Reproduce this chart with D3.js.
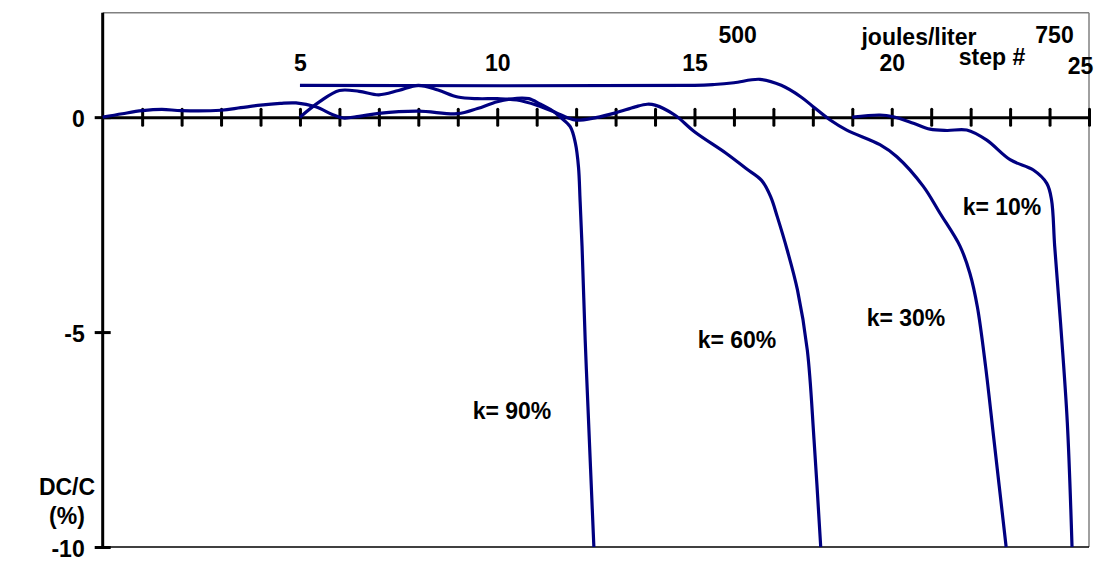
<!DOCTYPE html>
<html>
<head>
<meta charset="utf-8">
<script src="https://cdn.jsdelivr.net/npm/d3@7"></script>
<style>
  html, body { margin: 0; padding: 0; background: #fff; }
  svg { display: block; font-family: 'Liberation Sans', Arial, sans-serif; font-weight: bold; }
  .lbl { font-size: 23px; fill: #000; }
</style>
</head>
<body>
<div id="chart"></div>
<script>
// step # on the bottom axis, DC/C (%) on the left
const stepTicks = d3.range(1, 26)
const stepLabels = [5, 10, 15, 20, 25]
const jouleLabels = [500, 750]
const yTicks = [0, -5, -10]

// k = 90%
const k90Step = [0, 0.5, 1, 1.5, 2, 3, 3.5, 4, 4.5, 4.9, 5.4, 5.85, 6.1, 6.5, 7, 8, 9, 9.5, 10, 10.5, 10.8, 11.1, 11.4, 11.6, 11.85, 11.98, 12.06, 12.1, 12.15, 12.23, 12.3, 12.45]
const k90Dc = [0, 0.08, 0.15, 0.18, 0.15, 0.16, 0.22, 0.28, 0.32, 0.33, 0.24, 0.05, -0.02, 0.02, 0.09, 0.14, 0.08, 0.2, 0.36, 0.44, 0.43, 0.3, 0.15, 0.0, -0.22, -0.6, -1.16, -1.93, -3.0, -5.19, -6.74, -10]

// k = 60%
const k60Step = [5, 5.5, 6, 6.5, 7, 7.5, 8, 8.5, 9, 9.5, 10, 10.5, 11, 11.5, 11.8, 12, 12.5, 13, 13.5, 13.8, 14, 14.5, 15, 15.8, 16.3, 16.7, 16.93, 17.1, 17.35, 17.61, 17.86, 18.03, 18.2]
const k60Dc = [0, 0.36, 0.62, 0.6, 0.52, 0.62, 0.74, 0.63, 0.47, 0.43, 0.43, 0.4, 0.28, 0.1, -0.02, -0.07, -0.01, 0.1, 0.24, 0.3, 0.28, 0.05, -0.34, -0.84, -1.19, -1.47, -1.85, -2.32, -3.09, -4.02, -5.42, -7.5, -10]

// k = 30%
const k30Step = [5, 15, 15.5, 16, 16.66, 17.2, 17.7, 18.0, 18.43, 18.86, 19.7, 20.13, 20.8, 21.22, 21.73, 21.98, 22.17, 22.38, 22.59, 22.9]
const k30Dc = [0.74, 0.74, 0.76, 0.8, 0.88, 0.74, 0.47, 0.25, -0.06, -0.3, -0.64, -0.92, -1.61, -2.23, -3.0, -3.63, -4.41, -5.81, -7.5, -10]

// k = 10%
const k10Step = [19, 19.7, 20.04, 20.55, 20.97, 21.4, 21.9, 22.4, 23.0, 23.59, 23.93, 24.05, 24.13, 24.28, 24.45, 24.57]
const k10Dc = [0, 0.05, 0.01, -0.14, -0.28, -0.31, -0.3, -0.53, -0.99, -1.23, -1.54, -1.92, -3.0, -4.8, -7.1, -10]

const seriesNames = ['k= 90%', 'k= 60%', 'k= 30%', 'k= 10%']

const WIDTH = 1098
const HEIGHT = 561
const LINE_COLOR = '#000080'

const x = d3.scaleLinear().domain([0, 25]).range([102.7, 1089])
const xJoule = d3.scaleLinear().domain([0, 750]).range([103.5, 1054])
const y = d3.scaleLinear().domain([-10, 2.43]).range([547, 12.7])

const svg = d3.select('#chart')
  .append('svg')
  .attr('width', WIDTH)
  .attr('height', HEIGHT)

// frame: thin top / right / bottom lines
svg.append('line')
  .attr('x1', x(0)).attr('x2', x(25))
  .attr('y1', y(2.43)).attr('y2', y(2.43))
  .attr('stroke', '#808080').attr('stroke-width', 1.5)
svg.append('line')
  .attr('x1', x(25)).attr('x2', x(25))
  .attr('y1', y(2.43)).attr('y2', y(-10))
  .attr('stroke', '#808080').attr('stroke-width', 1.5)
svg.append('line')
  .attr('x1', x(0)).attr('x2', x(25))
  .attr('y1', y(-10)).attr('y2', y(-10))
  .attr('stroke', '#000').attr('stroke-width', 1.5)

// step axis along zero, ticks crossing the line
const stepAxis = svg.append('g')
  .attr('transform', `translate(0, ${y(0)})`)
  .call(d3.axisBottom(x).tickValues(stepTicks).tickSize(8).tickSizeOuter(0).tickFormat(''))
stepAxis.select('.domain').attr('stroke', '#000').attr('stroke-width', 3)
stepAxis.selectAll('.tick line')
  .attr('y1', -8)
  .attr('stroke', '#000')
  .attr('stroke-width', 3)
  .attr('stroke-linecap', 'round')

// step labels on top
const stepLabelAxis = svg.append('g')
  .attr('transform', 'translate(0, 71)')
  .call(d3.axisTop(x).tickValues(stepLabels).tickSize(0).tickPadding(0))
stepLabelAxis.select('.domain').remove()
stepLabelAxis.selectAll('text')
  .attr('class', 'lbl')
  .attr('dy', d => d === 25 ? 3 : 0)
  .attr('dx', d => d === 25 ? -9 : 0) // last one sits against the frame

// joules labels
const jouleAxis = svg.append('g')
  .attr('transform', 'translate(0, 43)')
  .call(d3.axisTop(xJoule).tickValues(jouleLabels).tickSize(0).tickPadding(0))
jouleAxis.select('.domain').remove()
jouleAxis.selectAll('text').attr('class', 'lbl').attr('dy', 0)

svg.append('text')
  .attr('class', 'lbl')
  .attr('x', 919)
  .attr('y', 45)
  .attr('text-anchor', 'middle')
  .text('joules/liter')

svg.append('text')
  .attr('class', 'lbl')
  .attr('x', 992)
  .attr('y', 65)
  .attr('text-anchor', 'middle')
  .text('step #')

// y axis
const yAxis = svg.append('g')
  .attr('transform', `translate(${x(0)}, 0)`)
  .call(d3.axisLeft(y).tickValues(yTicks).tickSize(8).tickSizeOuter(0).tickPadding(10))
yAxis.select('.domain')
  .attr('d', `M0,${y(2.43)}V${y(-10)}`)
  .attr('stroke', '#000')
  .attr('stroke-width', 3)
yAxis.selectAll('.tick line')
  .attr('x1', 8)
  .attr('stroke', '#000')
  .attr('stroke-width', 3)
yAxis.selectAll('.tick text')
  .attr('class', 'lbl')
  .attr('dy', '0.42em')
  .text(d => String(d))

svg.append('text')
  .attr('class', 'lbl')
  .attr('x', 67)
  .attr('y', 495)
  .attr('text-anchor', 'middle')
  .text('DC/C')
svg.append('text')
  .attr('class', 'lbl')
  .attr('x', 67)
  .attr('y', 524)
  .attr('text-anchor', 'middle')
  .text('(%)')

// curves
const line = d3.line()
  .x(d => x(d[0]))
  .y(d => y(d[1]))
  .curve(d3.curveCatmullRom.alpha(0.5))

const series = [
  d3.zip(k90Step, k90Dc),
  d3.zip(k60Step, k60Dc),
  d3.zip(k30Step, k30Dc),
  d3.zip(k10Step, k10Dc)
]

svg.append('g')
  .selectAll('path')
  .data(series)
  .join('path')
  .attr('fill', 'none')
  .attr('stroke', LINE_COLOR)
  .attr('stroke-width', 3.2)
  .attr('stroke-linejoin', 'round')
  .attr('d', line)

// curve labels, placed beside each drop
const labelPos = [[512, 419], [737, 348], [906, 326], [1002, 215]]
svg.append('g')
  .selectAll('text')
  .data(seriesNames)
  .join('text')
  .attr('class', 'lbl')
  .attr('x', (d, i) => labelPos[i][0])
  .attr('y', (d, i) => labelPos[i][1])
  .attr('text-anchor', 'middle')
  .text(d => d)
</script>
</body>
</html>
